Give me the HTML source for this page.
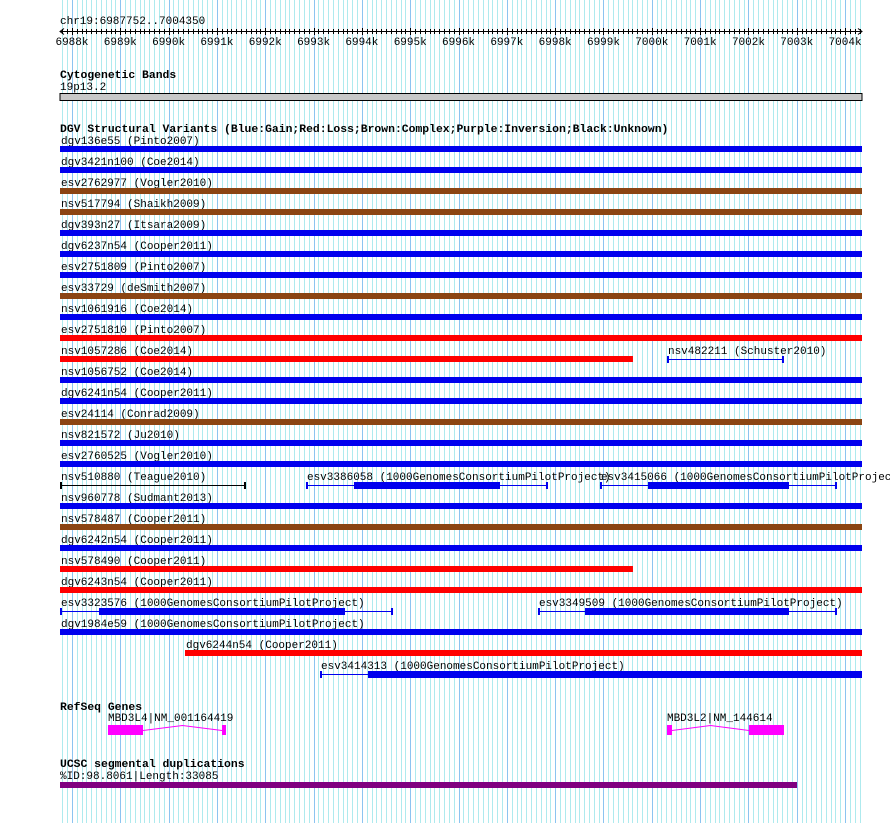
<!DOCTYPE html>
<html><head><meta charset="utf-8"><style>
body{margin:0;background:#fff;}
svg{display:block;font-family:"Liberation Mono",monospace;}
</style></head><body>
<svg id="c" width="890" height="823" xmlns="http://www.w3.org/2000/svg"></svg>
<script>
const START = 6987752, END = 7004350;
const tickKb = [6988,6989,6990,6991,6992,6993,6994,6995,6996,6997,6998,6999,7000,7001,7002,7003,7004];
// DGV rows: names, colors, start, end (bp)
const rowNames = ["dgv136e55 (Pinto2007)","dgv3421n100 (Coe2014)","esv2762977 (Vogler2010)","nsv517794 (Shaikh2009)","dgv393n27 (Itsara2009)","dgv6237n54 (Cooper2011)","esv2751809 (Pinto2007)","esv33729 (deSmith2007)","nsv1061916 (Coe2014)","esv2751810 (Pinto2007)","nsv1057286 (Coe2014)","nsv1056752 (Coe2014)","dgv6241n54 (Cooper2011)","esv24114 (Conrad2009)","nsv821572 (Ju2010)","esv2760525 (Vogler2010)","nsv510880 (Teague2010)","nsv960778 (Sudmant2013)","nsv578487 (Cooper2011)","dgv6242n54 (Cooper2011)","nsv578490 (Cooper2011)","dgv6243n54 (Cooper2011)","esv3323576 (1000GenomesConsortiumPilotProject)","dgv1984e59 (1000GenomesConsortiumPilotProject)","dgv6244n54 (Cooper2011)","esv3414313 (1000GenomesConsortiumPilotProject)","nsv482211 (Schuster2010)","esv3386058 (1000GenomesConsortiumPilotProject)","esv3415066 (1000GenomesConsortiumPilotProject)","esv3349509 (1000GenomesConsortiumPilotProject)"];
const rowIndex = [0,1,2,3,4,5,6,7,8,9,10,11,12,13,14,15,16,17,18,19,20,21,22,23,24,25,10,16,16,22];
const rowColors = ["blue","blue","brown","brown","blue","blue","blue","brown","blue","red","red","blue","blue","brown","blue","blue","black","blue","brown","blue","red","red","blue","blue","red","blue","blue","blue","blue","blue"];
const rowStart = [START,START,START,START,START,START,START,START,START,START,START,START,START,START,START,START,START,START,START,START,START,START,START,START,6990339,6993133,7000314,6992843,6998927,6997644];
const rowEnd = [END,END,END,END,END,END,END,END,END,END,6999610,END,END,END,END,END,6991601,END,END,END,6999610,END,6994644,END,END,END,7002735,6997851,7003832,7003832];
const thickStart = [null,null,null,null,null,null,null,null,null,null,null,null,null,null,null,null,"line",null,null,null,null,null,6988559,null,null,6994126,"line",6993836,6999921,6998617];
const thickEnd = [null,null,null,null,null,null,null,null,null,null,null,null,null,null,null,null,"line",null,null,null,null,null,6993650,null,null,END,"line",6996858,7002839,7002839];
// genes: exons
const geneNames = ["MBD3L4|NM_001164419","MBD3L2|NM_144614"];
const geneStart = [6988745,7000314];
const geneEnd = [6991187,7002735];
const exonStarts = [[6988745,6991105],[7000314,7002011]];
const exonEnds = [[6989470,6991187],[7000418,7002735]];
const segdupStart = 6987752, segdupEnd = 7003005;

const svg = document.getElementById('c');
const NS = "http://www.w3.org/2000/svg";
const X0 = 60, X1 = 862;
const x = bp => X0 + (bp - START) * (X1 - X0) / (END - START);
const colorMap = {blue:"#0000ee",red:"#ff0000",brown:"#8b4513",black:"#000",purple:"#800080"};
function el(tag, attrs, parent){const e=document.createElementNS(NS,tag);for(const k in attrs)e.setAttribute(k,attrs[k]);(parent||svg).appendChild(e);return e;}
function txt(s,xx,yy,bold,name){const t=el('text',{x:xx,y:yy,'font-size':bold?'11.4':'11','font-weight':bold?'bold':'normal',fill:'#000'});t.textContent=s;


return t;}

// grid
const grid = el('g',{});


for(let bp=6987800; bp<=END; bp+=100){
  const major = bp%1000===0;
  const xx = Math.round(x(bp))+0.5;
  el('line',{x1:xx,x2:xx,y1:0,y2:823,stroke:major?'#8cc4f0':'#aeeaee','stroke-width':1},grid);
}

// ruler
txt("chr19:6987752..7004350",60,24,false,'ruler-title');
el('line',{x1:60,x2:862,y1:31.5,y2:31.5,stroke:'#000'});
el('path',{d:'M64 28.5 L60 31.5 L64 34.5 M858 28.5 L862 31.5 L858 34.5',stroke:'#000',fill:'none'});
for(let bp=6987800; bp<=END; bp+=100){
  const xx = Math.round(x(bp))+0.5;
  el('line',{x1:xx,x2:xx,y1:bp%1000===0?28:29,y2:bp%1000===0?35:34,stroke:'#000'});
}
tickKb.forEach(k=>{const t=txt(k+"k",x(k*1000),45,false,'tick-label');t.setAttribute('text-anchor','middle');});

// cytogenetic bands
txt("Cytogenetic Bands",60,78,true,'cytoband-track-title');
txt("19p13.2",60,90,false,'cytoband-label');
const band = el('rect',{x:60,y:93.5,width:802,height:7,fill:'#c8c8c8',stroke:'#000'});



// DGV
txt("DGV Structural Variants (Blue:Gain;Red:Loss;Brown:Complex;Purple:Inversion;Black:Unknown)",60,132,true,'dgv-track-title');
for(let i=0;i<rowNames.length;i++){
  const ry = 140 + rowIndex[i]*21;
  const x1 = x(rowStart[i]), x2 = x(rowEnd[i]);
  const c = colorMap[rowColors[i]];
  const g = el('g',{});
  
  
  const t = el('text',{x:x1+1,y:ry+4,'font-size':'11',fill:'#000'},g); t.textContent=rowNames[i];
  const by = ry + 9;
  if(thickStart[i]===null){
    el('rect',{x:x1,y:by-3,width:x2-x1,height:6,fill:c},g);
  } else {
    el('line',{x1:x1,x2:x2,y1:by+0.5,y2:by+0.5,stroke:c},g);
    el('rect',{x:x1,y:by-3,width:2,height:7,fill:c},g);
    el('rect',{x:x2-2,y:by-3,width:2,height:7,fill:c},g);
    if(thickStart[i]!=="line"){
      const t1=x(thickStart[i]), t2=x(thickEnd[i]);
      el('rect',{x:t1,y:by-3,width:t2-t1,height:7,fill:c},g);
    }
  }
}

// RefSeq
txt("RefSeq Genes",60,710,true,'refseq-track-title');
for(let i=0;i<geneNames.length;i++){
  const g = el('g',{});
  
  
  const t = el('text',{x:x(geneStart[i]),y:721,'font-size':'11',fill:'#000'},g); t.textContent=geneNames[i];
  const s = x(exonEnds[i][0]), e = x(exonStarts[i][1]), m=(s+e)/2;
  el('polyline',{points:`${s},730.5 ${m},725.5 ${e},730.5`,fill:'none',stroke:'#ff00ff'},g);
  for(let j=0;j<exonStarts[i].length;j++){
    const a=x(exonStarts[i][j]), b=x(exonEnds[i][j]);
    el('rect',{x:a,y:725,width:Math.max(b-a,2),height:10,fill:'#ff00ff'},g);
  }
}

// UCSC segdup
txt("UCSC segmental duplications",60,767,true,'segdup-track-title');
txt("%ID:98.8061|Length:33085",60,779,false,'segdup-label');
const sd = el('rect',{x:x(segdupStart),y:782,width:x(segdupEnd)-x(segdupStart),height:6,fill:'#800080'});


</script>
</body></html>
